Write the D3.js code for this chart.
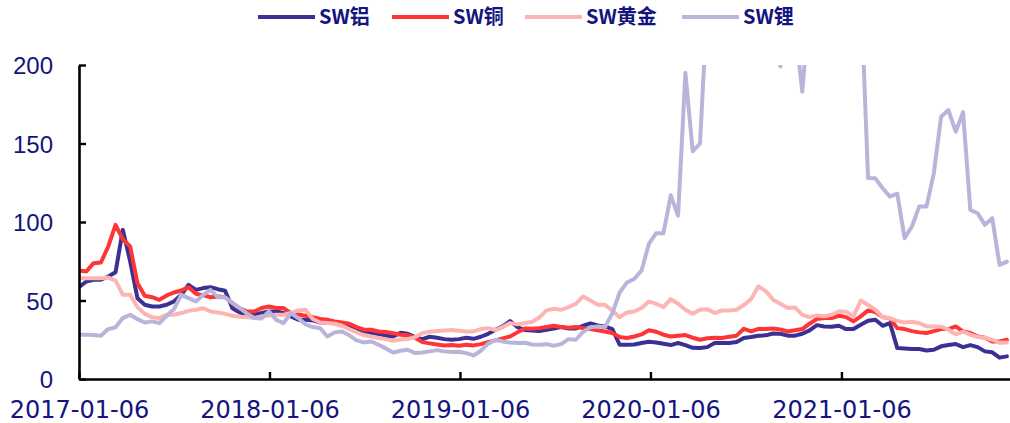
<!DOCTYPE html>
<html>
<head>
<meta charset="utf-8">
<script src="https://cdn.jsdelivr.net/npm/d3@7/dist/d3.min.js"></script>
<style>
  html, body { margin: 0; padding: 0; background: #ffffff; }
  svg { display: block; }
</style>
</head>
<body>
<svg id="chart" width="1010" height="423"></svg>
<script>
// Valuation series (PE, TTM) for four Shenwan non-ferrous sub-indices, sampled every two weeks
const seriesNames = ["SW铝", "SW铜", "SW黄金", "SW锂"];
const seriesColors = ["#3b3192", "#ff3535", "#ffb4b4", "#b9b5da"];
const startDate = "2017-01-06";
const endDate = "2021-11-25";
const stepDays = 14;
const xTickLabels = ["2017-01-06", "2018-01-06", "2019-01-06", "2020-01-06", "2021-01-06"];
const yTickValues = [0, 50, 100, 150, 200];

const aluminium = [
  58.5, 62.1, 63.2, 63.2, 65.3, 68, 95, 75, 51.5, 47.3, 46.2, 46.2, 47.3, 49.4, 53.6, 60,
  56.8, 57.9, 58.5, 57.2, 56.2, 45.1, 42.4, 41.6, 40.9, 42, 43, 43, 42, 39.9, 37.7, 37.7,
  37.3, 36, 36, 35.6, 34.8, 33.9, 32.4, 30.1, 29.2, 28.6, 27.6, 27.1, 29.5, 28.8, 26.7, 25.4,
  26.9, 26.3, 25.4, 25, 25.4, 26.3, 25.6, 26.9, 28.8, 31.4, 33.5, 36.9, 33.1, 31.2, 30.9, 30.5,
  31.4, 32.2, 33.1, 32.2, 32.2, 33.9, 35.4, 34.1, 33.5, 31.8, 21.8, 21.8, 22, 22.9, 23.7, 23.3,
  22.5, 21.6, 22.9, 21.6, 19.9, 19.7, 20.3, 22.9, 22.9, 22.9, 23.5, 26.1, 26.7, 27.6, 27.8, 29,
  28.8, 27.6, 27.6, 28.8, 31, 34.3, 33.5, 33.3, 33.9, 31.8, 31.8, 34.6, 37.1, 37.7, 33.9, 35.6,
  19.7, 19.5, 19.1, 19.1, 18.2, 18.6, 20.8, 21.6, 22.3, 20.3, 21.6, 20.3, 17.6, 17, 13.6, 14.4
];
const copper = [
  69.1, 68.5, 73.8, 74.2, 84.4, 98.2, 89, 84.4, 61, 53, 52.1, 50.4, 53.2, 55.1, 56.4, 58.5,
  54.3, 53.4, 52.1, 52.6, 52.1, 48.3, 45, 43, 43, 45.2, 46.2, 45.2, 45.2, 42, 41.1, 40.3,
  39.4, 38.2, 37.7, 36.7, 36, 35.2, 33.1, 31.4, 31.4, 30.3, 29.9, 29.2, 28.2, 27.8, 26.3, 23.5,
  22.7, 22, 21.4, 21.6, 21.2, 21.8, 21.4, 22.2, 23.5, 24.6, 25.9, 27.1, 29.7, 32.2, 32, 32.4,
  33.1, 33.9, 33.1, 32.6, 33.1, 32.4, 31.8, 31, 30.3, 29.3, 26.7, 26.1, 27.1, 28.4, 31, 30.1,
  28.2, 27.1, 27.6, 28, 26.3, 25, 25.9, 26.3, 26.1, 26.9, 27.6, 32, 30.3, 32, 31.8, 32.2,
  31.6, 30.3, 31, 31.8, 35.2, 38.2, 38.8, 38.8, 40.3, 39.4, 36.7, 39.9, 43.7, 42.6, 39.4, 38.6,
  32.4, 31.8, 30.5, 29.7, 29.3, 30.5, 31.8, 31.8, 33.5, 30.3, 29.3, 27.1, 26.3, 23.9, 23.9, 25
];
const gold = [
  64.2, 64.2, 64.2, 64.2, 64.6, 62.7, 53.6, 53.6, 45.8, 41.5, 39.4, 38.8, 40.9, 40.9, 42, 43.4,
  44.1, 45.1, 43, 42.4, 41.5, 40.3, 39.6, 39.4, 38.8, 39.9, 40.5, 40.9, 40.9, 42, 43.7, 44.1,
  38.2, 36, 35.6, 35.2, 33.9, 31.8, 29.7, 28, 27.1, 26.1, 25.4, 24.4, 25.2, 25.4, 26.7, 29.2,
  30.1, 30.5, 30.9, 31.2, 30.7, 30.3, 30.3, 31.8, 32.4, 31.2, 33.1, 35.6, 34.8, 35.6, 36.3, 39.2,
  43.7, 44.7, 44.1, 45.8, 47.9, 52.6, 50, 47.3, 47.3, 43.5, 39.4, 42.4, 43, 45.2, 49.4, 47.9,
  45.8, 50.9, 47.9, 44.1, 41.6, 44.1, 44.5, 42, 43.7, 43.7, 44.1, 47.1, 50.9, 59, 56, 50.5,
  47.9, 45.2, 45.6, 40.9, 39.4, 40.5, 39.9, 40.9, 43, 42.8, 39.9, 50, 47.1, 44.1, 39.4, 38.8,
  36.9, 36, 36.5, 35.6, 33.5, 33.5, 33.3, 31.4, 28.4, 30.1, 28.2, 26.7, 26.3, 25, 23.1, 23.3
];
const lithium = [
  28.2, 28.2, 28, 27.5, 31.8, 33, 38.8, 40.9, 38.1, 36, 36.7, 35.6, 40.3, 44.5, 53.6, 51.5,
  49.4, 53.6, 56.8, 52.1, 52.1, 48.3, 45.2, 41.6, 38.8, 38.6, 43, 37.7, 35.6, 42, 38.8, 34.8,
  33.1, 32.4, 27.1, 29.7, 30.3, 27.8, 24.6, 23.3, 23.9, 21.8, 19.5, 16.9, 18, 18.6, 16.5, 16.9,
  17.6, 18.4, 17.6, 17.2, 17.4, 16.5, 15, 18, 22.5, 25, 23.9, 23.3, 22.9, 23.1, 22, 21.8,
  22.2, 21.2, 22.2, 25.4, 25, 30, 32.9, 33.5, 33.1, 42, 55.1, 61.5, 63.8, 69.1, 86, 92.9,
  92.9, 117, 104, 195, 145, 150, 240, 265, 290, 310, 280, 255, 240, 260, 285, 250,
  199, 235, 225, 183, 240, 270, 300, 320, 290, 270, 285, 250, 128, 127.8, 121.5, 116.2,
  118, 89.7, 97.1, 109.8, 109.8, 131, 167, 171.3, 157.5, 170, 107.7, 105.6, 98.2, 102.4, 72.7, 74.8
];

const seriesValues = [aluminium, copper, gold, lithium];

const svg = d3.select("#chart");
const margin = { left: 79, right: 1010, top: 65, bottom: 379 };
const labelColor = "#14147e";

const parseDate = d3.timeParse("%Y-%m-%d");
const t0 = parseDate(startDate);
const dates = aluminium.map((_, i) => d3.timeDay.offset(t0, stepDays * i));

const x = d3.scaleTime()
  .domain([t0, parseDate(endDate)])
  .range([margin.left, margin.right]);
const y = d3.scaleLinear()
  .domain([0, 200])
  .range([margin.bottom, margin.top]);

// plot area clip: values above the top of the axis are cut off
svg.append("defs").append("clipPath").attr("id", "plot-clip")
  .append("rect")
  .attr("x", margin.left)
  .attr("y", margin.top)
  .attr("width", margin.right - margin.left)
  .attr("height", margin.bottom - margin.top);

const line = d3.line()
  .x((d, i) => x(dates[i]))
  .y(d => y(d));

const plot = svg.append("g").attr("clip-path", "url(#plot-clip)");
seriesValues.forEach((vals, k) => {
  plot.append("path")
    .datum(vals)
    .attr("fill", "none")
    .attr("stroke", seriesColors[k])
    .attr("stroke-width", 4)
    .attr("stroke-linejoin", "round")
    .attr("stroke-linecap", "round")
    .attr("d", line);
});

// y axis, ticks pointing into the plot
const yAxis = svg.append("g")
  .attr("transform", `translate(${margin.left},0)`)
  .call(d3.axisLeft(y).tickValues(yTickValues).tickSizeInner(-7).tickSizeOuter(0).tickPadding(26));
yAxis.select(".domain").attr("stroke", "#000").attr("stroke-width", 2.6);
yAxis.selectAll(".tick line").attr("stroke", "#000").attr("stroke-width", 2.4);
yAxis.selectAll(".tick text")
  .attr("fill", labelColor)
  .attr("font-family", "'Liberation Sans', Arial, sans-serif")
  .attr("font-size", 24)
  .attr("dy", "0.36em");

// x axis with yearly ticks
const xAxis = svg.append("g")
  .attr("transform", `translate(0,${margin.bottom})`)
  .call(d3.axisBottom(x)
    .tickValues(xTickLabels.map(parseDate))
    .tickFormat(d3.timeFormat("%Y-%m-%d"))
    .tickSizeInner(-7).tickSizeOuter(0).tickPadding(22));
xAxis.select(".domain").attr("stroke", "#000").attr("stroke-width", 2.6);
xAxis.selectAll(".tick line").attr("stroke", "#000").attr("stroke-width", 2.4);
xAxis.selectAll(".tick text")
  .attr("fill", labelColor)
  .attr("font-family", "'DejaVu Sans', sans-serif")
  .attr("font-size", 24)
  .attr("dy", "0.71em");

// legend across the top
const legendX = [258, 392, 525, 682];
const legend = svg.append("g");
seriesNames.forEach((name, k) => {
  const g = legend.append("g").attr("transform", `translate(${legendX[k]},17)`);
  g.append("line")
    .attr("x1", 0).attr("x2", 57)
    .attr("y1", 0).attr("y2", 0)
    .attr("stroke", seriesColors[k])
    .attr("stroke-width", 4);
  g.append("text")
    .attr("x", 61)
    .attr("y", 7)
    .attr("fill", labelColor)
    .attr("font-family", "'Noto Sans CJK SC', sans-serif")
    .attr("font-weight", "bold")
    .attr("font-size", 20)
    .text(name);
});
</script>
</body>
</html>
